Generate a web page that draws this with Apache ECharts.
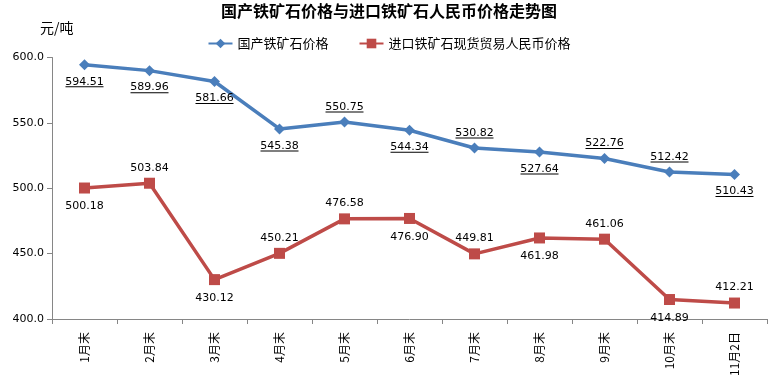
<!DOCTYPE html>
<html><head><meta charset="utf-8">
<script src="https://cdn.jsdelivr.net/npm/echarts@6/dist/echarts.min.js"></script>
<style>html,body{margin:0;padding:0;background:#fff}#c{width:778px;height:383px}</style>
</head><body><div id="c"></div>
<script>
const categories = ['1月末','2月末','3月末','4月末','5月末','6月末','7月末','8月末','9月末','10月末','11月2日'];
const domesticPrice = [594.51, 589.96, 581.66, 545.38, 550.75, 544.34, 530.82, 527.64, 522.76, 512.42, 510.43];
const importPrice = [500.18, 503.84, 430.12, 450.21, 476.58, 476.90, 449.81, 461.98, 461.06, 414.89, 412.21];
const seriesNames = ['国产铁矿石价格', '进口铁矿石现货贸易人民币价格'];
const titleText = '国产铁矿石价格与进口铁矿石人民币价格走势图';
const unitText = '元/吨';

const bluePos = ['bottom','bottom','bottom','bottom','top','bottom','top','bottom','top','top','bottom'];
const redPos = ['bottom','top','bottom','top','top','bottom','top','bottom','top','bottom','top'];

const numFont = 'DejaVu Sans, Verdana, sans-serif';
const cjkFont = '"Noto Sans CJK SC", sans-serif';

function mkData(vals, pos, underline) {
  return vals.map((v, i) => ({
    value: v,
    label: {
      show: true,
      position: pos[i],
      distance: pos[i] === 'top' ? 4 : 7,
      fontSize: 11,
      lineHeight: 9,
      fontFamily: numFont,
      formatter: p => underline ? '{v|' + p.value.toFixed(2) + '}\n{u|}' : '{v|' + p.value.toFixed(2) + '}',
      rich: {
        v: { fontSize: 11, fontFamily: numFont, color: '#000', lineHeight: underline ? 9 : 12 },
        u: { width: 38, height: 1, backgroundColor: '#000', lineHeight: 1, fontSize: 1 }
      }
    }
  }));
}

const chart = echarts.init(document.getElementById('c'), null, { renderer: 'canvas' });
chart.setOption({
  backgroundColor: '#fff',
  animation: false,
  title: {
    text: titleText, left: 'center', top: -2,
    textStyle: { fontSize: 16, fontWeight: 'bold', fontFamily: cjkFont, color: '#000' }
  },
  graphic: [{
    type: 'text', left: 40, top: 21,
    style: { text: unitText, fontSize: 14, fontFamily: cjkFont, fill: '#000' }
  }],
  legend: {
    top: 32, left: 'center', itemWidth: 24, itemHeight: 12, itemGap: 30,
    textStyle: { fontSize: 13, fontFamily: cjkFont, color: '#000' },
    data: seriesNames
  },
  grid: { left: 52, right: 11, top: 57.5, bottom: 64, containLabel: false },
  xAxis: {
    type: 'category', data: categories, boundaryGap: true,
    axisLine: { lineStyle: { color: '#868686', width: 1 } },
    axisTick: { show: true, length: 5, lineStyle: { color: '#868686' } },
    axisLabel: { rotate: 90, fontSize: 12, fontFamily: cjkFont, color: '#000', margin: 13, interval: 0 }
  },
  yAxis: {
    type: 'value', min: 400, max: 600, interval: 50,
    axisLine: { show: true, lineStyle: { color: '#868686', width: 1 } },
    axisTick: { show: true, length: 5, lineStyle: { color: '#868686' } },
    splitLine: { show: false },
    axisLabel: { fontSize: 11, fontFamily: numFont, color: '#000', margin: 8, formatter: v => v.toFixed(1) }
  },
  series: [
    {
      name: seriesNames[0], type: 'line', data: mkData(domesticPrice, bluePos, true),
      symbol: 'diamond', symbolSize: 11,
      lineStyle: { color: '#4A7EBB', width: 3.5 },
      itemStyle: { color: '#4A7EBB' }
    },
    {
      name: seriesNames[1], type: 'line', data: mkData(importPrice, redPos, false),
      symbol: 'rect', symbolSize: 11,
      lineStyle: { color: '#BE4B48', width: 3.5 },
      itemStyle: { color: '#BE4B48' }
    }
  ]
});
</script></body></html>
